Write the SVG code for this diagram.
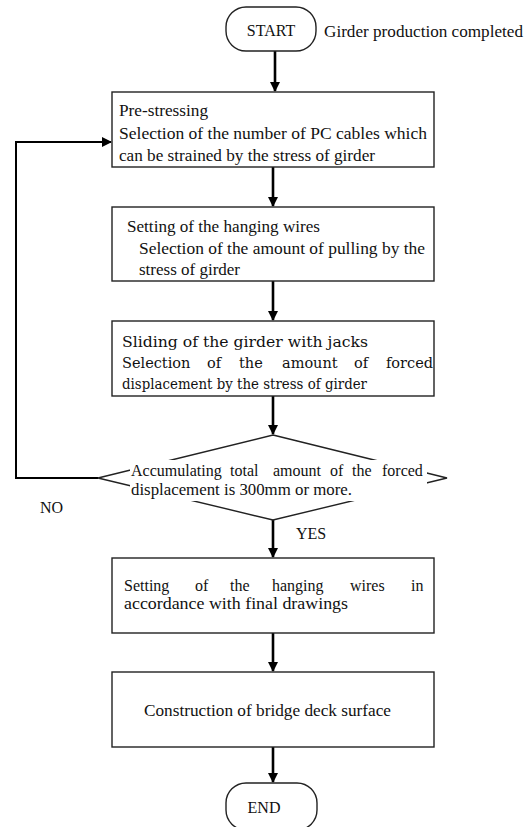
<svg xmlns="http://www.w3.org/2000/svg" width="532" height="827" viewBox="0 0 532 827">
<style>
.box{fill:#fff;stroke:#222;stroke-width:1.4}
.t{font-family:'Liberation Serif','Times New Roman','DejaVu Serif',serif;font-size:16px;fill:#111}
.c{font-family:'DejaVu Serif','Liberation Serif',serif;font-size:14.5px;fill:#111}
.ar{stroke:#000;stroke-width:2.6;fill:none}
.ln{stroke:#000;stroke-width:2;fill:none}
</style>
<defs>
<marker id="ah" markerWidth="10" markerHeight="10" refX="9" refY="5" orient="auto" markerUnits="userSpaceOnUse"><path d="M0,0 L10,5 L0,10 Z" fill="#000"/></marker>
</defs>
<rect width="532" height="827" fill="#fff"/>
<g id="connectors">
<line class="ar" x1="275" y1="51" x2="275" y2="91" marker-end="url(#ah)"/>
<line class="ar" x1="273" y1="167" x2="273" y2="206" marker-end="url(#ah)"/>
<line class="ar" x1="273" y1="281" x2="273" y2="320" marker-end="url(#ah)"/>
<line class="ar" x1="273" y1="396" x2="273" y2="434" marker-end="url(#ah)"/>
<line class="ar" x1="273" y1="520" x2="273" y2="557" marker-end="url(#ah)"/>
<line class="ar" x1="273" y1="633" x2="273" y2="671" marker-end="url(#ah)"/>
<line class="ar" x1="273" y1="747" x2="273" y2="782" marker-end="url(#ah)"/>
<polyline class="ln" points="98,478 16,478 16,142 111,142" marker-end="url(#ah)"/>
<text class="t" x="40" y="513">NO</text>
<text class="t" x="296" y="539">YES</text>
</g>
<g id="start">
<rect class="box" x="226" y="7" width="90" height="44" rx="20"/>
<text class="t" x="271" y="36" text-anchor="middle" font-size="15">START</text>
<text class="t" x="324" y="37" textLength="199" lengthAdjust="spacingAndGlyphs">Girder production completed</text>
</g>
<g id="prestress">
<rect class="box" x="112" y="92" width="322" height="75"/>
<text class="t" x="119" y="116" textLength="89" lengthAdjust="spacingAndGlyphs">Pre-stressing</text>
<text class="t" x="119" y="139" textLength="308" lengthAdjust="spacingAndGlyphs">Selection of the number of PC cables which</text>
<text class="t" x="119" y="161" textLength="256" lengthAdjust="spacingAndGlyphs">can be strained by the stress of girder</text>
</g>
<g id="hanging">
<rect class="box" x="112" y="207" width="322" height="74"/>
<text class="t" x="127" y="232" textLength="193" lengthAdjust="spacingAndGlyphs">Setting of the hanging wires</text>
<text class="t" x="139" y="254" textLength="286" lengthAdjust="spacingAndGlyphs">Selection of the amount of pulling by the</text>
<text class="t" x="139" y="275" textLength="101" lengthAdjust="spacingAndGlyphs">stress of girder</text>
</g>
<g id="sliding">
<rect class="box" x="112" y="321" width="322" height="75"/>
<text class="c" x="122" y="347" textLength="246" lengthAdjust="spacingAndGlyphs">Sliding of the girder with jacks</text>
<text class="c" y="368"><tspan x="122">Selection</tspan> <tspan x="207">of</tspan> <tspan x="239">the</tspan> <tspan x="282">amount</tspan> <tspan x="354">of</tspan> <tspan x="386">forced</tspan></text>
<text class="c" x="122" y="389" textLength="245" lengthAdjust="spacingAndGlyphs">displacement by the stress of girder</text>
</g>
<g id="decision">
<polygon points="273,435 447,478 273,520 98,478" fill="#fff" stroke="#222" stroke-width="1.4"/>
<rect x="130" y="460" width="297" height="41" fill="#fff"/>
<text class="t" y="476"><tspan x="131">Accumulating</tspan> <tspan x="230">total</tspan> <tspan x="273">amount</tspan> <tspan x="330">of</tspan> <tspan x="352">the</tspan> <tspan x="382">forced</tspan></text>
<text class="t" x="131" y="495" textLength="221" lengthAdjust="spacingAndGlyphs">displacement is 300mm or more.</text>
</g>
<g id="final">
<rect class="box" x="112" y="558" width="322" height="75"/>
<text class="t" y="591"><tspan x="124">Setting</tspan> <tspan x="195">of</tspan> <tspan x="230">the</tspan> <tspan x="272">hanging</tspan> <tspan x="350">wires</tspan> <tspan x="411">in</tspan></text>
<text class="t" x="124" y="609" textLength="224" lengthAdjust="spacingAndGlyphs">accordance with final drawings</text>
</g>
<g id="deck">
<rect class="box" x="112" y="672" width="322" height="75"/>
<text class="t" x="144" y="716" textLength="247" lengthAdjust="spacingAndGlyphs">Construction of bridge deck surface</text>
</g>
<g id="end">
<rect class="box" x="226" y="783" width="91" height="47" rx="20"/>
<text class="t" x="264" y="813" text-anchor="middle" font-size="15">END</text>
</g>
</svg>
